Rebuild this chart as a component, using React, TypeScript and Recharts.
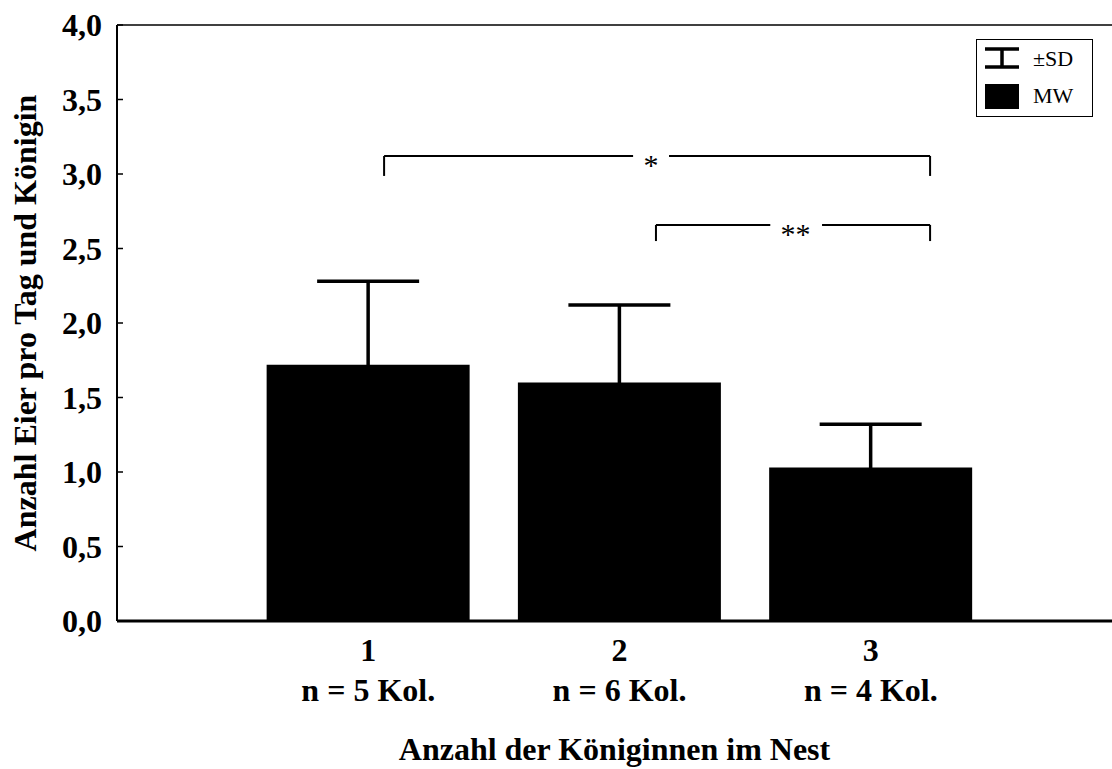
import {
  BarChart,
  Bar,
  XAxis,
  YAxis,
  ErrorBar,
  ReferenceLine,
  ReferenceDot,
} from "recharts";

// Mittelwerte (MW) und Standardabweichung je Koloniegröße
const queens = [1, 2, 3];
const colonies = [5, 6, 4];
const means = [1.72, 1.6, 1.03];
const sds = [0.56, 0.52, 0.29];
const yTicks = [0, 0.5, 1, 1.5, 2, 2.5, 3, 3.5, 4];

// Signifikanz-Klammern (in Achseneinheiten)
const brackets = [
  { from: 1.063, to: 3.236, level: 3.121, foot: 2.987, mark: "*", center: 2.125, gap: [2.054, 2.197] },
  { from: 2.145, to: 3.236, level: 2.658, foot: 2.55, mark: "**", center: 2.7, gap: [2.6, 2.806] },
];

const data = queens.map((q, i) => ({
  queens: q,
  n: colonies[i],
  mean: means[i],
  // lower part hidden inside the black bar
  err: [0.1, sds[i]],
}));

const FONT = "'Liberation Serif', 'Times New Roman', serif";

const XTick = ({ x, y, payload }: any) => {
  const row = data.find((d) => d.queens === payload.value);
  return (
    <text x={x} y={y} textAnchor="middle" fontFamily={FONT} fontWeight="bold" fontSize={32} fill="#000">
      <tspan x={x} dy={32}>{payload.value}</tspan>
      <tspan x={x} dy={40}>{`n = ${row ? row.n : ""} Kol.`}</tspan>
    </text>
  );
};

const LegendBox = () => (
  <div
    style={{
      position: "absolute",
      left: 976,
      top: 39,
      width: 115,
      height: 76,
      border: "1.5px solid #000",
      background: "#fff",
      fontFamily: FONT,
      fontSize: 22,
    }}
  >
    <svg width={40} height={76} style={{ position: "absolute", left: 6, top: 0 }}>
      <line x1={2} x2={36} y1={9} y2={9} stroke="#000" strokeWidth={3.5} />
      <line x1={19} x2={19} y1={9} y2={27} stroke="#000" strokeWidth={3.5} />
      <line x1={2} x2={36} y1={27} y2={27} stroke="#000" strokeWidth={3.5} />
      <rect x={2} y={44} width={34} height={25} fill="#000" />
    </svg>
    <div style={{ position: "absolute", left: 56, top: 6 }}>±SD</div>
    <div style={{ position: "absolute", left: 56, top: 43 }}>MW</div>
  </div>
);

export default function App() {
  return (
    <div style={{ position: "absolute", left: 0, top: 0, width: 1112, height: 769, background: "#fff" }}>
      <BarChart
        width={1112}
        height={769}
        data={data}
        margin={{ top: 25, right: 0, left: 0, bottom: 28 }}
      >
        <XAxis
          dataKey="queens"
          type="number"
          domain={[0, 3.96]}
          ticks={queens}
          tickLine={false}
          axisLine={{ stroke: "#000", strokeWidth: 3 }}
          tick={<XTick />}
          height={120}
          label={{
            content: (props: any) => {
              const vb = props.viewBox;
              return (
                <text
                  x={vb.x + vb.width / 2}
                  y={vb.y + 139}
                  textAnchor="middle"
                  fontFamily={FONT}
                  fontWeight="bold"
                  fontSize={32}
                  fill="#000"
                >
                  Anzahl der Königinnen im Nest
                </text>
              );
            },
          }}
        />
        <YAxis
          type="number"
          domain={[0, 4]}
          ticks={yTicks}
          width={117}
          tickSize={-6}
          tickMargin={21}
          tickLine={{ stroke: "#000", strokeWidth: 1.5 }}
          axisLine={{ stroke: "#000", strokeWidth: 2 }}
          tick={{ fontFamily: FONT, fontWeight: "bold", fontSize: 32, fill: "#000" }}
          tickFormatter={(v: number) => v.toFixed(1).replace(".", ",")}
          label={{
            content: (props: any) => {
              const vb = props.viewBox;
              const cx = 25;
              const cy = vb.y + vb.height / 2;
              return (
                <text
                  x={cx}
                  y={cy}
                  transform={`rotate(-90 ${cx} ${cy})`}
                  textAnchor="middle"
                  dominantBaseline="central"
                  fontFamily={FONT}
                  fontWeight="bold"
                  fontSize={32}
                  fill="#000"
                >
                  Anzahl Eier pro Tag und Königin
                </text>
              );
            },
          }}
        />
        <ReferenceLine y={4} stroke="#000" strokeWidth={1.5} />
        <Bar dataKey="mean" name="MW" fill="#000" barSize={203} isAnimationActive={false}>
          <ErrorBar dataKey="err" direction="y" width={51} stroke="#000" strokeWidth={3.5} />
        </Bar>
        {brackets.map((b, i) => [
          <ReferenceLine
            key={`a${i}`}
            segment={[{ x: b.from, y: b.foot }, { x: b.from, y: b.level }]}
            stroke="#000"
            strokeWidth={2}
          />,
          <ReferenceLine
            key={`b${i}`}
            segment={[{ x: b.from, y: b.level }, { x: b.gap[0], y: b.level }]}
            stroke="#000"
            strokeWidth={2}
          />,
          <ReferenceLine
            key={`c${i}`}
            segment={[{ x: b.gap[1], y: b.level }, { x: b.to, y: b.level }]}
            stroke="#000"
            strokeWidth={2}
          />,
          <ReferenceLine
            key={`e${i}`}
            segment={[{ x: b.to, y: b.level }, { x: b.to, y: b.foot }]}
            stroke="#000"
            strokeWidth={2}
          />,
          <ReferenceDot
            key={`d${i}`}
            x={b.center}
            y={b.level}
            r={0}
            fill="none"
            stroke="none"
            label={{ value: b.mark, position: "center", fontFamily: FONT, fontSize: 30, fill: "#000", dy: 8 }}
          />,
        ])}
      </BarChart>
      <LegendBox />
    </div>
  );
}
